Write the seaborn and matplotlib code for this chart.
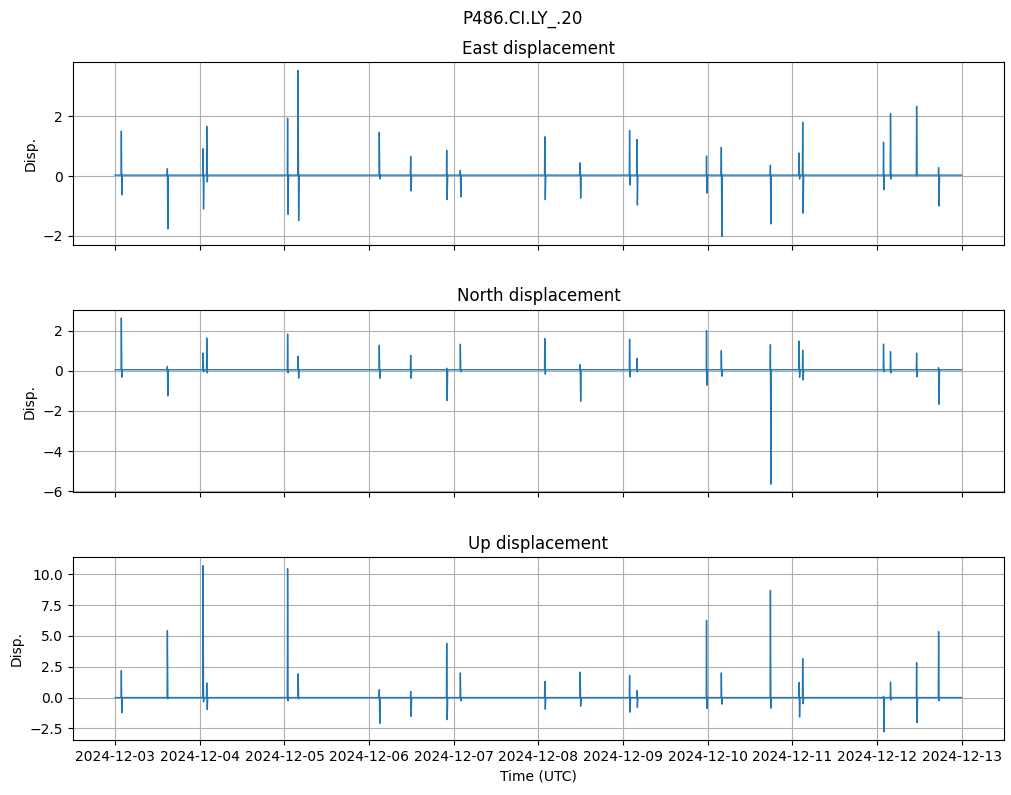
import numpy as np
import pandas as pd
import seaborn as sns
import matplotlib.pyplot as plt
import matplotlib.dates as mdates

# Event times (UTC) where the displacement traces spike
event_times = [
    "2024-12-03 01:45", "2024-12-03 14:48", "2024-12-04 00:55", "2024-12-04 01:58",
    "2024-12-05 00:53", "2024-12-05 03:53", "2024-12-06 02:53", "2024-12-06 11:47",
    "2024-12-06 22:00", "2024-12-07 01:52", "2024-12-08 01:49", "2024-12-08 11:51",
    "2024-12-09 01:51", "2024-12-09 03:56", "2024-12-09 23:40", "2024-12-10 03:52",
    "2024-12-10 17:47", "2024-12-11 01:55", "2024-12-11 02:56", "2024-12-12 01:51",
    "2024-12-12 03:50", "2024-12-12 11:14", "2024-12-12 17:28",
]
series_start = "2024-12-03 00:00"
series_end = "2024-12-12 23:59"

# peak (positive) and trough (negative) values per event
east_up = [1.50, 0.24, 0.91, 1.66, 1.93, 3.53, 1.46, 0.65, 0.86, 0.19, 1.31, 0.44,
           1.52, 1.22, 0.67, 0.96, 0.36, 0.77, 1.80, 1.13, 2.09, 2.33, 0.28]
east_down = [-0.63, -1.77, -1.10, -0.20, -1.28, -1.49, -0.10, -0.50, -0.79, -0.70, -0.79, -0.74,
             -0.30, -0.97, -0.57, -2.02, -1.60, -0.10, -1.24, -0.46, -0.10, 0.00, -1.00]
north_up = [2.63, 0.22, 0.88, 1.63, 1.83, 0.73, 1.27, 0.77, 0.13, 1.32, 1.60, 0.30,
            1.57, 0.62, 2.00, 1.00, 1.30, 1.48, 1.03, 1.33, 0.95, 0.88, 0.15]
north_down = [-0.32, -1.25, -0.05, -0.10, -0.10, -0.37, -0.37, -0.37, -1.48, -0.05, -0.17, -1.52,
              -0.30, -0.05, -0.72, -0.27, -5.65, -0.33, -0.46, -0.05, -0.10, -0.30, -1.67]
vert_up = [2.19, 5.43, 10.70, 1.18, 10.45, 1.93, 0.64, 0.50, 4.41, 2.00, 1.31, 2.06,
           1.79, 0.56, 6.26, 2.00, 8.69, 1.23, 3.16, 0.10, 1.26, 2.83, 5.35]
vert_down = [-1.23, -0.10, -0.35, -0.96, -0.27, -0.10, -2.09, -1.52, -1.79, -0.27, -0.94, -0.70,
             -1.18, -0.80, -0.88, -0.53, -0.86, -1.58, -0.50, -2.78, -0.20, -2.03, -0.27]

baselines = {"East": 0.03, "North": 0.05, "Up": 0.0}
components = {
    "East": (east_up, east_down),
    "North": (north_up, north_down),
    "Up": (vert_up, vert_down),
}


def build_trace(ups, downs, base):
    times = [pd.Timestamp(series_start)]
    vals = [base]
    for t, u, d in zip(event_times, ups, downs):
        t = pd.Timestamp(t)
        times += [t - pd.Timedelta(minutes=5), t, t + pd.Timedelta(minutes=8),
                  t + pd.Timedelta(minutes=16)]
        vals += [base, u, d, base]
    times.append(pd.Timestamp(series_end))
    vals.append(base)
    return pd.DataFrame({"time": times, "disp": vals})


fig, axes = plt.subplots(3, 1, figsize=(10.12, 7.95), sharex=True)
for ax, (name, (ups, downs)) in zip(axes, components.items()):
    df = build_trace(ups, downs, baselines[name])
    sns.lineplot(data=df, x="time", y="disp", ax=ax, color="#1f77b4",
                 linewidth=1.0, estimator=None, sort=True)
    ax.set_title(name + " displacement")
    ax.set_ylabel("Disp.")
    ax.set_xlabel("")
    ax.grid(True)

axes[-1].set_xlabel("Time (UTC)")
axes[-1].xaxis.set_major_locator(mdates.DayLocator())
axes[-1].xaxis.set_major_formatter(mdates.DateFormatter("%Y-%m-%d"))

fig.suptitle("P486.CI.LY_.20", x=0.516, y=0.988)
plt.subplots_adjust(left=0.072, right=0.992, top=0.922, bottom=0.069, hspace=0.355)
plt.savefig("out.png", dpi=100)
plt.close()
